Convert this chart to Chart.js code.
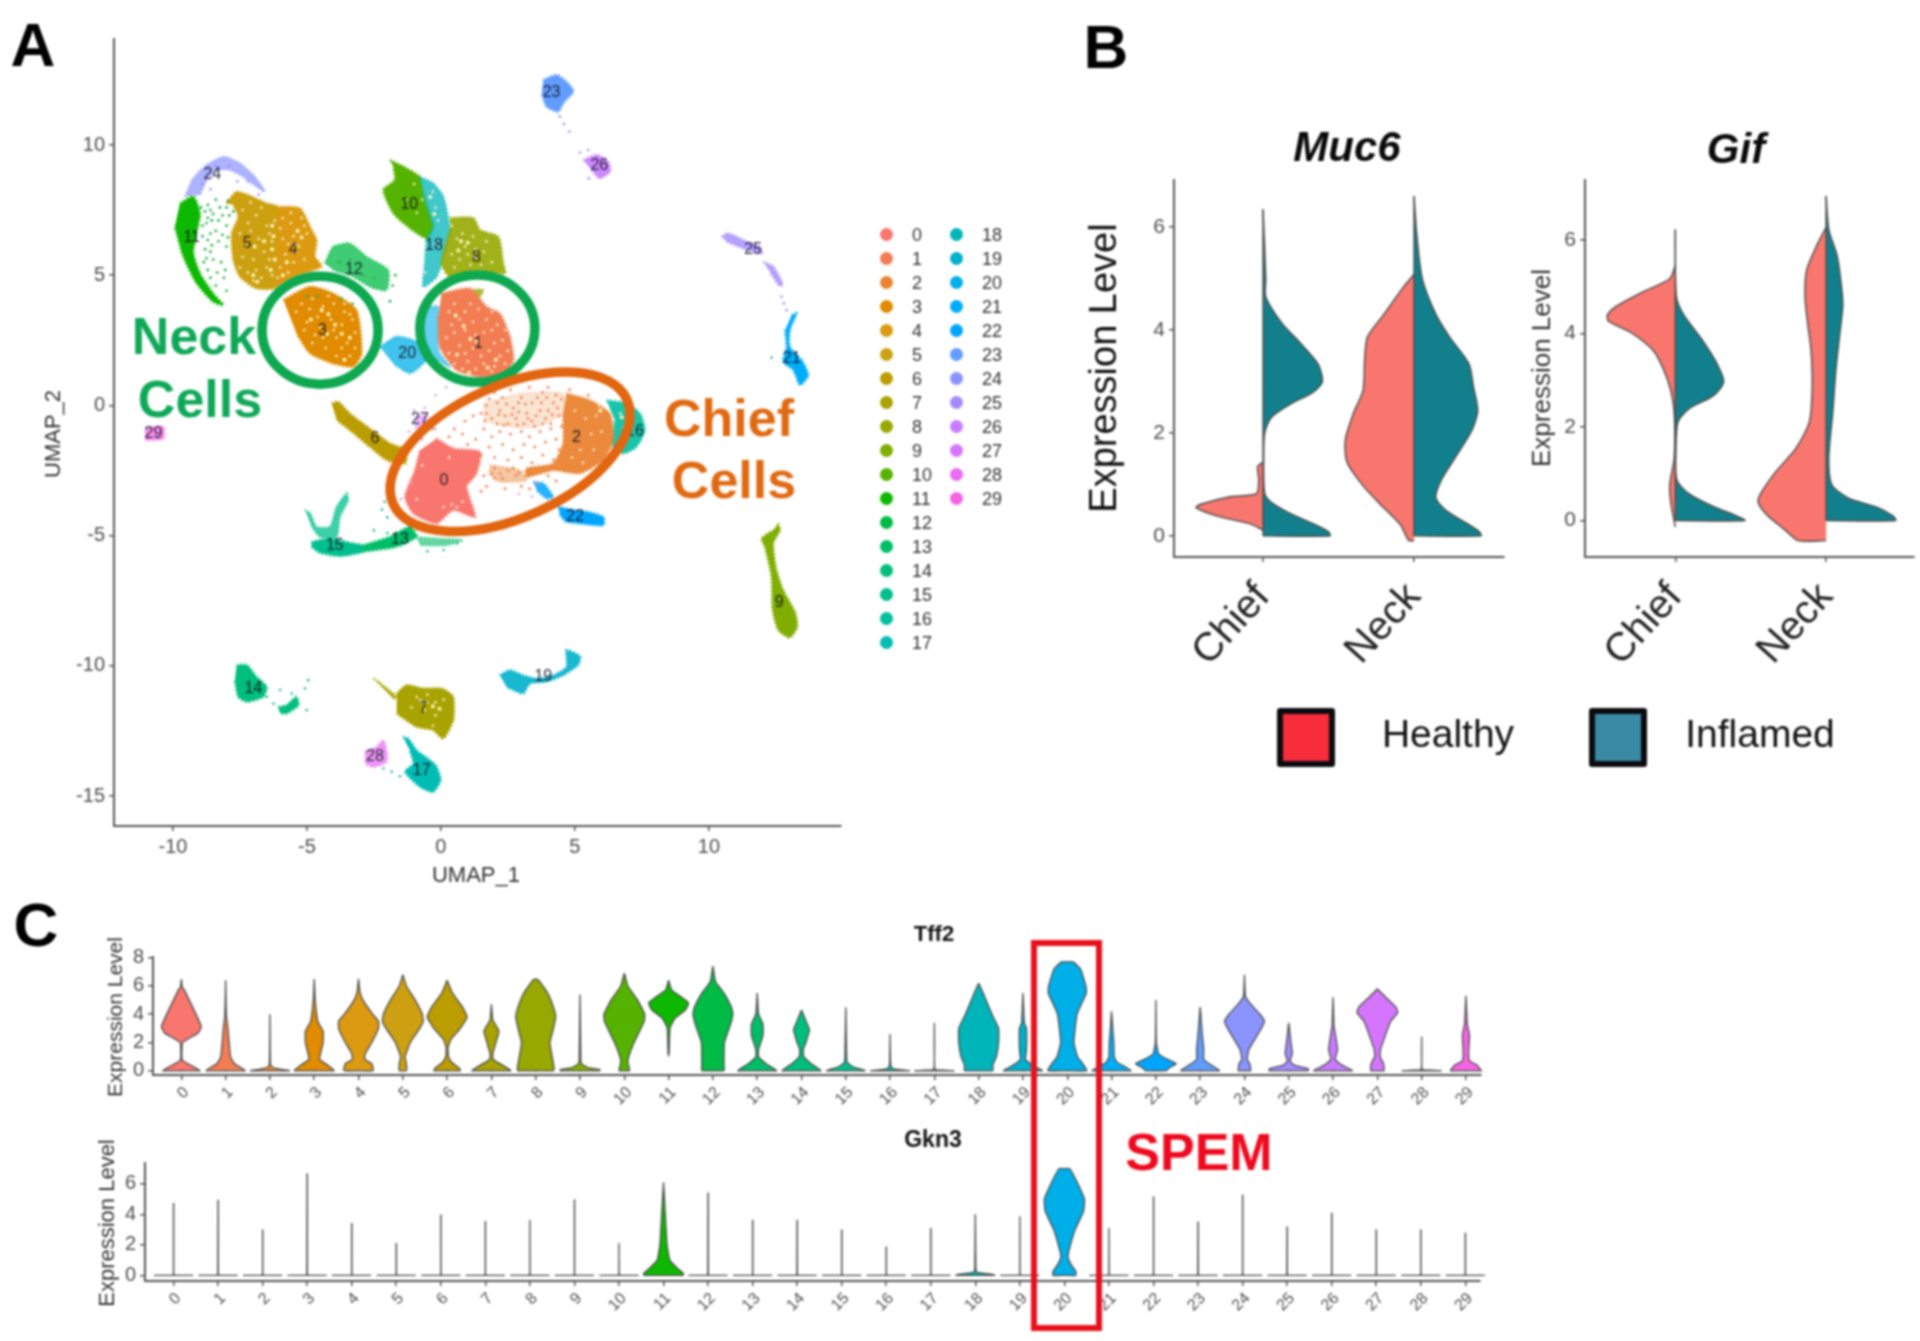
<!DOCTYPE html>
<html>
<head>
<meta charset="utf-8">
<title>UMAP clusters and violin plots</title>
<script src="https://cdn.jsdelivr.net/npm/chart.js@4/dist/chart.umd.min.js"></script>
<style>
  html, body { margin: 0; padding: 0; background: #fff; }
  #page { position: relative; width: 1920px; height: 1341px; overflow: hidden; font-family: "Liberation Sans", Arial, sans-serif; filter: blur(0.8px); }
  canvas { position: absolute; }
  .txt { position: absolute; white-space: nowrap; line-height: 1; }
  .dot { position: absolute; width: 13px; height: 13px; border-radius: 50%; }
  .swatch { position: absolute; box-sizing: border-box; border: 6px solid #0b0b0f; border-radius: 3px; }
</style>
</head>
<body>
<div id="page"></div>
<script>
// ---------- data: panel A ----------
const clusterNames = ['0','1','2','3','4','5','6','7','8','9','10','11','12','13','14','15','16','17','18','19','20','21','22','23','24','25','26','27','28','29'];
const clusterColors = ['#F8766D','#F27D53','#EA8331','#E08B00','#DB9A10','#CCA010','#BC9D00','#A8A300','#97A800','#7FAE00','#55B300','#0DB800','#00BB45','#00BE67','#00BF7D','#00BF8E','#00BFA0','#00BDB4','#00B5BA','#00B0CC','#00AFE8','#00ADFA','#00A5FF','#619CFF','#8B93FF','#A58AFF','#C77CFF','#D575FE','#E76BF3','#F564E3'];

const umapXTicks = [-10, -5, 0, 5, 10];
const umapYTicks = [-15, -10, -5, 0, 5, 10];

const outline0 = [[-0.16,-1.27],[0.46,-1.65],[1.46,-1.78],[1.33,-2.61],[0.96,-3.12],[1.27,-4.28],[0.46,-4.02],[-0.16,-4.53],[-1.03,-4.15],[-1.34,-3.51],[-0.97,-2.49],[-0.78,-1.72]];
const outline1 = [[0.02,4.3],[1.08,4.49],[1.7,3.79],[2.2,3.53],[2.57,2.64],[2.7,1.74],[2.33,1.23],[1.46,1.1],[0.58,1.36],[-0.04,2.25],[-0.1,3.41]];
const outline2 = [[4.69,0.46],[5.56,0.2],[6.3,-0.31],[6.43,-1.33],[6.06,-2.1],[5.19,-2.61],[4.19,-2.49],[3.2,-2.74],[3.2,-2.42],[4.19,-2.23],[4.56,-1.46],[4.56,-0.31]];
const outline2Top = [[1.58,0.08],[2.95,0.46],[4.56,0.46],[4.56,-0.31],[3.57,-0.82],[2.45,-0.82],[1.58,-0.56]];
const outline2Low = [[1.83,-2.29],[2.95,-2.49],[3.2,-2.87],[2.2,-2.93],[1.77,-2.61]];
const outline3 = [[-5.88,4.05],[-4.89,4.56],[-4.02,4.3],[-3.15,3.66],[-2.96,2.0],[-3.27,1.49],[-4.02,1.61],[-4.89,2.0],[-5.39,2.77]];
const outline4 = [[-6.13,7.63],[-5.26,7.57],[-4.89,6.87],[-4.64,6.35],[-4.7,5.72],[-4.45,5.33],[-5.51,4.94],[-6.13,4.56]];
const outline5 = [[-8.0,7.76],[-7.62,8.2],[-6.88,7.94],[-6.5,7.76],[-6.13,7.63],[-6.13,4.56],[-6.88,4.49],[-7.5,4.94],[-7.75,5.58],[-7.81,6.61],[-7.56,7.25],[-7.75,7.7]];
const outline6 = [[-4.08,0.08],[-3.83,0.14],[-3.4,-0.31],[-2.65,-0.89],[-1.9,-1.46],[-1.28,-1.72],[-1.34,-2.23],[-2.03,-2.1],[-2.65,-1.59],[-3.4,-0.95],[-3.89,-0.56]];
const outline7 = [[-1.65,-11.06],[-1.28,-10.74],[-0.66,-10.87],[0.04,-10.87],[0.46,-11.19],[0.46,-12.09],[0.09,-12.79],[-0.29,-12.47],[-0.91,-12.34],[-1.65,-11.83]];
const outline7Tail = [[-2.52,-10.49],[-2.34,-10.61],[-1.65,-11.19],[-1.78,-11.26]];
const outline8 = [[0.34,7.2],[1.21,7.2],[1.46,6.74],[2.14,6.48],[2.33,5.45],[2.39,5.07],[1.33,5.2],[0.34,4.94],[0.02,5.45],[0.34,6.74]];
const outline8Tail = [[1.08,4.43],[1.58,4.43],[1.33,3.98]];
const outline9 = [[12.59,-4.53],[12.65,-4.79],[12.4,-5.3],[12.52,-6.32],[12.77,-7.09],[13.21,-7.93],[13.3,-8.5],[13.02,-8.91],[12.59,-8.63],[12.38,-7.86],[12.34,-6.58],[12.09,-5.43],[11.97,-5.11],[12.4,-4.79]];
const outline10 = [[-1.9,9.42],[-1.41,9.17],[-0.79,8.78],[-0.66,8.14],[-0.47,7.5],[-0.29,6.86],[-0.53,6.41],[-1.16,6.8],[-1.78,7.38],[-2.15,8.27],[-1.72,8.66],[-1.78,9.17]];
const outline11 = [[-9.74,7.76],[-9.24,8.02],[-8.99,7.38],[-9.12,6.61],[-9.24,5.84],[-8.99,5.07],[-8.5,4.3],[-8.12,3.85],[-8.5,3.98],[-9.12,4.69],[-9.61,5.71],[-9.93,6.86]];
const outline12 = [[-4.33,5.45],[-4.02,6.09],[-3.4,6.22],[-2.77,5.71],[-1.97,5.2],[-2.03,4.43],[-2.65,4.56],[-3.27,4.94],[-4.02,5.2]];
const outline13 = [[-2.9,-5.37],[-1.9,-5.04],[-1.16,-4.66],[-0.91,-5.04],[-1.65,-5.43],[-2.9,-5.62]];
const outline13Tail = [[-0.91,-5.05],[-0.16,-5.11],[0.83,-5.17],[0.21,-5.37],[-0.78,-5.37]];
const outline14 = [[-7.62,-9.97],[-7.25,-9.97],[-6.88,-10.42],[-6.5,-10.81],[-6.63,-11.19],[-7.25,-11.38],[-7.56,-11.19],[-7.69,-10.55]];
const outline14Tail = [[-6.07,-11.58],[-5.76,-11.51],[-5.39,-11.19],[-5.32,-11.51],[-5.76,-11.83],[-6.01,-11.81]];
const outline15 = [[-4.83,-5.24],[-4.14,-5.11],[-3.27,-5.3],[-2.9,-5.37],[-2.9,-5.62],[-3.77,-5.79],[-4.51,-5.66],[-4.83,-5.43]];
const outline15Arms = [[-5.07,-4.02],[-4.88,-4.15],[-4.64,-4.66],[-4.14,-4.66],[-3.89,-3.89],[-3.52,-3.38],[-3.46,-3.64],[-3.77,-4.28],[-3.89,-5.04],[-4.51,-5.04],[-4.83,-4.66]];
const outline16 = [[6.18,0.2],[6.93,0.08],[7.43,-0.31],[7.61,-0.95],[7.3,-1.59],[6.8,-1.85],[6.43,-1.59],[6.49,-0.57]];
const outline17 = [[-1.41,-12.73],[-1.22,-12.79],[-0.91,-13.24],[-0.41,-13.62],[-0.16,-13.88],[-0.01,-14.39],[-0.29,-14.84],[-0.78,-14.65],[-1.34,-14.07],[-1.03,-13.75],[-1.16,-13.24]];
const outline18 = [[-0.79,8.78],[-0.29,8.53],[0.09,8.02],[0.34,6.73],[0.21,6.09],[-0.16,4.94],[-0.66,4.55],[-0.6,5.45],[-0.53,6.35],[-0.29,6.86],[-0.47,7.5],[-0.66,8.14]];
const outline19 = [[2.2,-10.36],[2.57,-10.17],[3.07,-10.36],[3.57,-10.49],[4.19,-10.36],[4.69,-10.04],[4.69,-9.4],[5.2,-9.65],[5.12,-9.97],[4.56,-10.36],[3.94,-10.61],[3.32,-10.68],[3.07,-11.06],[2.45,-10.81]];
const outline20 = [[-2.28,2.25],[-1.66,2.64],[-1.03,2.51],[-0.41,2.13],[-0.66,1.61],[-1.16,1.23],[-1.78,1.61]];
const outline20Strip = [[-0.53,3.79],[-0.1,3.79],[-0.1,2.12],[0.34,1.48],[-0.3,1.87],[-0.67,2.64]];
const outline21 = [[13.09,3.47],[13.27,3.53],[13.02,2.89],[13.02,2.25],[13.46,1.74],[13.71,1.17],[13.4,0.78],[13.15,1.36],[12.77,1.68],[12.9,2.25],[12.84,2.89]];
const outline22 = [[4.38,-3.89],[4.94,-4.02],[5.44,-4.08],[6.06,-4.28],[6.06,-4.6],[5.18,-4.53],[4.69,-4.47],[4.44,-4.21]];
const outline22Tail = [[3.45,-2.93],[3.82,-3.0],[4.19,-3.51],[3.94,-3.57],[3.57,-3.25]];
const outline23 = [[3.82,12.5],[4.32,12.69],[4.75,12.37],[4.94,12.05],[4.56,11.6],[4.38,11.28],[3.94,11.47],[3.76,11.98]];
const outline24 = [[-9.55,8.02],[-9.24,8.72],[-8.74,9.23],[-8.12,9.55],[-7.5,9.3],[-6.94,8.78],[-6.57,8.21],[-6.88,8.4],[-7.38,8.78],[-7.87,9.04],[-8.37,9.04],[-8.74,8.66],[-8.99,8.08]];
const outline25 = [[10.47,6.48],[10.72,6.61],[11.41,6.29],[11.9,6.1],[11.97,5.84],[11.28,6.03],[10.66,6.29]];
const outline25Low = [[12.03,5.51],[12.4,5.33],[12.75,4.68],[12.65,4.58],[12.28,5.12]];
const outline26 = [[5.31,9.42],[5.81,9.62],[6.24,9.36],[6.31,8.98],[5.93,8.72],[5.62,9.04]];
const outline27 = [[-0.97,-0.44],[-0.53,-0.37],[-0.6,-0.76],[-0.97,-0.89]];
const outline28 = [[-2.84,-13.3],[-2.4,-13.11],[-2.15,-12.86],[-2.03,-13.24],[-2.03,-13.69],[-2.52,-13.88],[-2.84,-13.75]];
const outline29 = [[-11.04,-0.88],[-10.36,-0.82],[-10.36,-1.28],[-11.04,-1.34]];

// draw order, bottom first: cluster index, outline, opacity
const clusterShapes = [
  [24,outline24,0.7],[11,outline11,1],[12,outline12,0.75],[5,outline5,1],[4,outline4,1],[3,outline3,1],
  [10,outline10,1],[18,outline18,0.75],[8,outline8,0.9],[8,outline8Tail,0.8],[20,outline20,0.75],[20,outline20Strip,0.6],[1,outline1,1],
  [23,outline23,1],[26,outline26,0.9],[25,outline25,0.8],[25,outline25Low,0.8],[21,outline21,1],
  [6,outline6,1],[27,outline27,0.5],[16,outline16,0.9],[2,outline2Top,0.22],[2,outline2Low,0.45],[2,outline2,0.95],[0,outline0,1],
  [22,outline22,1],[22,outline22Tail,0.85],[15,outline15,1],[15,outline15Arms,0.75],[13,outline13,1],[13,outline13Tail,0.6],
  [14,outline14,1],[14,outline14Tail,1],[9,outline9,1],[19,outline19,0.9],[7,outline7,1],[7,outline7Tail,0.9],[17,outline17,1],[28,outline28,0.7],[29,outline29,0.7]
];

// loose cells
const looseCentre = [[1.6,-0.9],[1.9,-1.2],[2.2,-1.0],[2.6,-1.1],[3.0,-1.0],[3.3,-1.2],[3.7,-1.0],[4.1,-0.9],[4.3,-1.3],[1.8,-1.6],[2.3,-1.5],[2.7,-1.7],[3.1,-1.5],[3.5,-1.6],[3.9,-1.4],[4.4,-1.7],[1.5,-1.9],[2.0,-2.0],[2.5,-2.1],[3.0,-2.0],[3.4,-2.2],[3.8,-1.9],[4.2,-2.1],[0.9,-0.6],[0.5,-0.9],[0.2,-0.3],[0.8,-1.1],[1.2,-0.4],[1.3,-1.3],[1.0,-1.5],[0.6,0.1],[1.1,0.2],[2.0,0.5],[2.6,0.6],[3.3,0.7],[4.0,0.7],[4.8,0.6],[5.5,0.4],[1.7,-3.1],[2.4,-3.2],[3.0,-3.1],[3.6,-3.0],[4.3,-2.9],[1.5,-3.3],[2.0,-2.8],[1.7,-0.3],[2.1,0.1],[2.4,-0.4],[2.9,0.1],[3.2,-0.3],[3.6,0.3],[3.9,-0.5],[4.2,0.1],[1.4,-2.3],[1.6,-2.7],[2.8,-2.7],[3.3,-3.2],[4.0,-2.7],[0.3,-1.2],[-0.3,-0.9],
  [1.7,0.0],[1.9,-0.5],[2.2,-0.2],[2.3,0.3],[2.5,-0.7],[2.7,-0.1],[2.8,-0.5],[3.0,0.3],[3.1,-0.7],[3.4,0.1],[3.4,-0.6],[3.7,-0.2],[3.8,0.5],[4.0,-0.2],[4.3,0.4],[4.4,-0.4],[4.5,-0.8],[4.1,-0.7],[2.1,-0.7],[1.5,-0.3],[2.0,-2.4],[2.2,-2.6],[2.5,-2.5],[2.7,-2.4],[2.9,-2.6],[2.3,-2.8],[1.9,-2.6],
  [1.8,0.25],[2.15,-0.35],[2.45,0.05],[2.65,-0.35],[2.85,-0.75],[3.15,0.05],[3.25,-0.5],[3.55,-0.4],[3.75,0.1],[3.95,0.3],[4.15,-0.35],[4.35,-0.1],[4.5,0.25],[2.35,-0.75],[1.65,-0.6],[3.5,-0.8],[3.8,-0.7],[2.9,-0.25]];
const looseSmall = [[-1.0,-0.2],[-0.6,-0.1],[-0.4,-0.5],[-0.2,-0.9],[-1.2,-1.0],[-1.5,-3.6],[-1.2,-4.4],[-1.1,-3.0],[-0.7,-1.3],[-0.2,0.4],[0.2,0.7],[2.9,-3.4],[3.4,-3.5]];
const looseGreen = [[-8.7,7.7],[-8.4,7.9],[-8.0,7.6],[-8.7,7.2],[-8.3,7.1],[-8.0,6.9],[-8.6,6.6],[-8.3,6.3],[-8.0,6.1],[-8.8,6.0],[-8.5,5.6],[-8.2,5.5],[-8.7,5.2],[-8.1,4.9],[-8.4,4.6],[-8.0,4.4],[-8.6,7.5],[-7.9,7.3],[-8.9,6.9],[-8.4,6.7],[-3.8,5.5],[-3.4,5.6],[-2.9,5.0],[-2.5,4.9],[-1.8,4.6],[-1.9,4.0],[-1.7,5.0],[-5.0,4.2],[-4.6,4.2],[-3.7,4.1],[-3.3,3.9],
  [-8.95,7.6],[-8.8,7.45],[-8.75,7.0],[-8.55,7.1],[-8.9,6.5],[-8.7,6.35],[-8.85,5.5],[-8.6,5.9],[-8.75,5.65],[-8.5,7.35],[-8.25,7.6],[-8.15,7.3],[-7.95,7.85],[-7.75,7.45],[-8.6,4.9],[-8.35,5.1],[-8.05,5.2],[-8.55,6.15],[-8.15,6.55],[-7.95,6.45]];
const looseViolet = [[-8.4,9.2],[-7.9,9.2],[-7.2,8.6],[-7.6,8.6],[-8.6,8.3],[-8.9,8.5],[-6.8,8.1],[4.44,11.09],[4.59,10.81],[4.79,10.51],[5.19,9.71],[5.5,9.81],[5.52,8.72],[12.71,4.17],[12.8,3.92],[12.9,3.66]];
const looseTeal = [[-6.5,-11.19],[-6.25,-11.45],[-6.0,-10.93],[-5.57,-11.06],[-5.07,-10.87],[-4.95,-10.55],[-5.01,-11.7],[-2.15,-13.94],[-1.84,-14.07],[-1.53,-14.24],[-2.1,-3.7],[-2.2,-4.0],[-2.0,-4.3],[12.34,1.84],[-2.5,-4.8],[-2.0,-4.9],[-0.5,-5.6],[0.1,-5.55],[0.6,-5.3]];
const speckles = [[-7.4,7.5],[-7.2,7.0],[-6.9,7.3],[-6.5,6.9],[-6.8,6.4],[-7.3,6.1],[-6.6,5.9],[-6.3,6.3],[-7.0,5.6],[-6.5,5.3],[-7.2,5.1],[-6.7,4.9],[-6.3,5.0],[-6.2,7.1],[-5.9,7.2],[-5.6,7.0],[-5.5,6.5],[-5.9,6.4],[-5.3,6.1],[-5.8,5.8],[-5.5,5.5],[-5.1,5.6],[-6.0,5.3],[-5.7,5.1],[-5.0,6.6],[-5.2,7.2],
  [-7.5,6.6],[-7.1,6.7],[-7.4,5.7],[-6.9,5.2],[-6.4,5.6],[-6.4,6.6],[-6.7,7.6],[-7.1,7.8],[-6.0,6.8],[-5.7,6.2],[-5.4,5.9],[-5.1,6.9],[-6.1,4.9],[-5.6,7.4],[-7.5,5.3],[-7.0,4.8],
  [-5.2,3.9],[-4.8,4.1],[-4.4,3.8],[-4.0,3.9],[-3.6,3.6],[-5.0,3.2],[-4.6,3.4],[-4.1,3.3],[-3.7,3.1],[-3.3,3.3],[-4.7,2.7],[-3.9,2.6],[-3.5,2.4],[-4.3,2.2],[-3.9,1.9],[-3.4,1.9],[-3.2,2.8],
  [-5.4,3.6],[-4.9,3.7],[-4.5,3.0],[-4.2,4.2],[-3.4,3.5],[-4.4,2.6],[-3.7,2.2],[-3.2,2.2],[-4.0,2.9],[-3.6,3.9],[-4.8,2.4],[-5.1,2.9],
  [0.5,3.9],[0.9,3.6],[1.4,3.7],[1.7,3.3],[2.1,3.1],[0.4,3.1],[0.9,2.9],[1.6,2.8],[2.3,2.5],[0.2,2.6],[0.7,2.3],[1.8,2.1],[2.2,1.9],[1.0,1.7],[1.6,1.6],[2.0,1.5],[0.5,1.6],[0.3,2.0],[1.2,2.2],
  [0.3,3.6],[0.7,3.3],[1.2,3.2],[1.9,2.9],[2.4,2.9],[0.5,2.8],[1.3,2.7],[2.0,2.4],[0.9,2.0],[1.5,1.9],[2.4,1.6],[1.3,1.4],[0.8,1.4],[1.9,1.3],[2.5,2.1],[1.1,3.9],[1.9,3.6],
  [0.6,6.4],[0.9,6.1],[1.3,6.0],[0.7,5.6],[1.1,5.4],[0.5,5.3],[1.6,5.9],[0.4,6.9],[0.8,6.6],[1.2,6.5],[1.7,6.3],[1.0,5.8],[1.9,5.5],[0.4,5.8],[1.5,5.4],
  [-1.0,8.5],[-1.3,7.9],[-0.9,7.4],[-0.7,7.9],[-0.3,8.2],[-0.2,7.6],[-0.1,7.1],[-0.2,6.2],[-0.6,5.1],
  [-0.9,-11.2],[-0.5,-11.1],[-0.2,-11.4],[-0.6,-11.7],[-0.2,-11.9],[-1.1,-11.6],[0.1,-11.3],[-0.3,-12.3],
  [5.0,-0.2],[5.4,-0.5],[5.8,-0.4],[6.0,-1.0],[5.6,-1.1],[5.2,-1.7],[5.7,-1.7],[4.9,-2.0],[5.3,-2.2],[5.9,0.0],[6.7,-0.3],[6.9,-0.6],
  [0.1,-3.9],[0.4,-3.8],[0.6,-3.9],[0.8,-3.7],[-0.9,-3.6],[-0.7,-2.3],[0.3,-2.0]];
const paleSpots = [[-6.3,6.9],[-6.25,6.5],[-6.3,6.0],[-6.2,5.6],[-6.35,5.2],[-5.35,6.7],[-5.2,6.45],[-5.45,6.2],[-6.95,6.1],[-6.6,6.3],[-7.0,5.0],[-6.85,4.75],[-5.75,5.5],[-5.9,5.0],[-4.45,3.65],[-4.2,3.5],[-3.95,3.1],[-3.7,2.75],[-4.25,2.75],[-3.4,2.6],[-3.6,1.75],[1.1,2.55],[1.35,2.45],[0.6,1.95],[2.05,1.75],[1.75,1.45],[1.05,1.25],[0.85,3.05],[0.55,3.45],[0.75,6.3],[1.0,6.25],[0.65,5.95],[1.25,5.7],[-0.55,-11.4],[-0.3,-11.55],[-0.75,-11.35],[-0.05,-11.65],[-0.4,8.0],[-0.25,7.35],[6.75,-0.45],[6.85,-0.85],[5.95,-0.2],[-4.85,3.3]];
const clusterLabelXs = [0.11,1.39,5.06,-4.42,-5.51,-7.23,-2.46,-0.66,1.33,12.62,-1.18,-9.3,-3.25,-1.53,-7.0,-3.96,7.24,-0.72,-0.26,3.82,-1.26,13.09,5.0,4.13,-8.53,11.65,5.91,-0.78,-2.46,-10.73];
const clusterLabelYs = [-2.9,2.38,-1.24,2.87,5.99,6.22,-1.27,-11.64,5.69,-7.57,7.7,6.45,5.2,-5.15,-10.87,-5.39,-0.99,-14.03,6.12,-10.4,2.0,1.81,-4.28,12.01,8.87,5.97,9.19,-0.56,-13.5,-1.08];

// ---------- data: panel B, each profile is [level, half width] ----------
const groupNames = ['Chief','Neck'];
const muc6Ticks = [0, 2, 4, 6];
const gifTicks = [0, 2, 4, 6];
const muc6ChiefHealthy = [[1.43,0],[1.35,.036],[1.09,.029],[.82,.044],[.76,.218],[.61,.418],[.55,.444],[.39,.309],[.30,.182],[.22,.073],[.11,0]];
const muc6ChiefInflamed = [[6.34,0],[4.99,.018],[4.64,.018],[4.12,.127],[3.78,.236],[3.34,.364],[2.99,.393],[2.78,.327],[2.56,.182],[2.3,.055],[2.0,.011],[1.52,.004],[.82,.011],[.65,.055],[.43,.182],[.22,.345],[.09,.43],[0,.444],[0,0]];
const muc6NeckHealthy = [[5.08,0],[4.82,.073],[4.3,.2],[3.86,.309],[3.43,.327],[2.82,.338],[2.39,.4],[1.87,.455],[1.43,.444],[1.0,.345],[.65,.236],[.22,.091],[-.09,.036],[-.09,0]];
const muc6NeckInflamed = [[6.6,0],[5.86,.018],[4.99,.055],[4.3,.145],[3.86,.236],[3.34,.364],[2.91,.393],[2.43,.422],[2.04,.382],[1.52,.273],[1.09,.182],[.74,.145],[.48,.218],[.22,.364],[.09,.43],[0,.444],[0,0]];
const gifChiefHealthy = [[5.45,0],[5.17,.037],[4.88,.221],[4.59,.387],[4.4,.45],[4.26,.443],[4.02,.295],[3.64,.148],[3.25,.081],[2.78,.03],[2.3,.007],[1.34,.007],[.77,.037],[.38,.03],[-.14,0]];
const gifChiefInflamed = [[6.22,0],[4.78,.007],[4.4,.055],[3.83,.185],[3.35,.277],[2.97,.321],[2.68,.258],[2.39,.092],[2.11,.018],[1.53,.004],[.86,.011],[.57,.092],[.29,.258],[.1,.406],[0,.461],[0,0]];
const gifNeckHealthy = [[6.27,0],[5.93,.055],[5.36,.129],[4.78,.14],[4.21,.122],[3.64,.1],[2.87,.092],[2.11,.111],[1.53,.203],[1.05,.332],[.57,.435],[.38,.45],[.1,.387],[-.19,.277],[-.43,.185],[-.43,0]];
const gifNeckInflamed = [[6.94,0],[6.22,.018],[5.65,.074],[4.98,.103],[4.59,.111],[4.02,.092],[3.25,.066],[2.3,.044],[1.34,.018],[.77,.037],[.48,.148],[.29,.332],[.1,.443],[0,.461],[0,0]];

// ---------- data: panel C ----------
const tff2Ticks = [0, 2, 4, 6, 8];
const gkn3Ticks = [0, 2, 4, 6];
const tff2Violins = [
  [[6.48,0],[5.9,.02],[5.76,.06],[3.14,.45],[2.67,.38],[2.0,.03],[.76,.02],[.29,.27],[0,.42],[0,0]],
  [[6.4,0],[4,.015],[3,.05],[1,.11],[.5,.2],[.2,.36],[0,.44],[0,0]],
  [[4.0,0],[.5,.01],[.25,.05],[.1,.25],[0,.44],[0,0]],
  [[6.5,0],[5,.02],[3.5,.08],[2.8,.2],[2,.2],[1.2,.14],[.8,.12],[.4,.3],[0,.45],[0,0]],
  [[6.5,0],[5.6,.03],[5,.1],[4,.32],[3.5,.45],[3,.45],[2,.3],[1.2,.15],[.8,.14],[.5,.3],[0,.33],[0,0]],
  [[6.8,0],[6,.08],[5,.28],[4,.44],[3.5,.46],[3,.38],[2,.17],[1,.05],[.5,.08],[0,.08],[0,0]],
  [[6.4,0],[5.5,.12],[4.5,.35],[3.8,.45],[3,.3],[2.2,.08],[1.6,.02],[1,.03],[.6,.1],[.2,.27],[0,.3],[0,0]],
  [[4.7,0],[3.6,.03],[2.8,.17],[2.2,.12],[1.2,.03],[.8,.04],[.3,.3],[0,.44],[0,0]],
  [[6.5,0],[6.4,.07],[5.5,.27],[4.5,.4],[3.8,.45],[3,.4],[2,.32],[1,.37],[.3,.41],[0,.4],[0,0]],
  [[5.4,0],[1.2,.015],[.5,.03],[.2,.2],[.08,.45],[0,.44],[0,0]],
  [[6.9,0],[6,.08],[5,.3],[4,.46],[3.5,.45],[2,.22],[1,.1],[.6,.08],[0,.12],[0,0]],
  [[6.4,0],[5.7,.07],[5.3,.25],[4.8,.45],[4.3,.38],[3.7,.14],[3,.03],[1.2,.01],[1.1,0]],
  [[7.4,0],[6.3,.06],[5.5,.25],[4.5,.42],[4,.45],[3.3,.4],[2,.26],[.5,.25],[0,.25],[0,0]],
  [[5.5,0],[4,.03],[3.3,.13],[2.5,.13],[1.5,.03],[1,.03],[.5,.2],[0,.44],[0,0]],
  [[4.3,0],[3.3,.13],[2.9,.18],[2,.1],[1.5,.04],[1,.05],[.5,.22],[0,.44],[0,0]],
  [[4.5,0],[1.5,.015],[.6,.03],[.3,.15],[0,.44],[0,0]],
  [[2.6,0],[.5,.01],[.2,.04],[.1,.15],[0,.44],[0,0]],
  [[3.4,0],[.1,.01],[.05,.2],[0,.44],[0,0]],
  [[6.2,0],[5.5,.1],[4,.3],[3,.45],[2,.45],[1,.4],[.4,.32],[0,.32],[0,0]],
  [[5.5,0],[3.4,.03],[3,.08],[1.5,.08],[.8,.06],[.4,.22],[0,.44],[0,0]],
  [[7.7,0],[7.7,.13],[7.2,.3],[6,.42],[5.5,.43],[4,.22],[2,.15],[1,.23],[.5,.35],[0,.44],[0,0]],
  [[4.2,0],[2.8,.03],[2,.05],[1,.06],[.6,.12],[.2,.35],[0,.44],[0,0]],
  [[5,0],[2,.01],[1.2,.06],[.9,.2],[.5,.46],[.2,.3],[.05,.25],[0,.24],[0,0]],
  [[4.5,0],[2.5,.05],[1.5,.08],[.8,.08],[.4,.25],[0,.44],[0,0]],
  [[6.8,0],[5.3,.02],[4.8,.12],[4,.35],[3.5,.45],[3,.38],[1.5,.1],[.8,.06],[.5,.12],[0,.14],[0,0]],
  [[3.4,0],[2,.05],[1.2,.08],[.7,.03],[.4,.12],[.15,.44],[0,.44],[0,0]],
  [[5.2,0],[3.2,.02],[2.6,.05],[1.5,.1],[.8,.05],[.4,.2],[0,.44],[0,0]],
  [[5.8,0],[5.5,.09],[4.5,.42],[4.1,.46],[3.5,.3],[1.5,.07],[1,.06],[.5,.14],[0,.15],[0,0]],
  [[2.4,0],[.1,.01],[.05,.2],[0,.44],[0,0]],
  [[5.3,0],[3.3,.03],[2.5,.08],[1.3,.06],[.7,.08],[.4,.25],[0,.35],[0,0]]
];
// Gkn3 is almost all zeros, so most clusters are a spike up to their highest cell
const gkn3Tops = [4.74,4.96,3.0,6.7,3.44,2.13,4.0,3.56,3.65,5.0,2.13,null,5.44,3.65,3.65,3.0,1.9,3.1,null,3.87,null,3.1,5.17,3.54,5.28,3.2,4.1,3.0,3.0,2.8];
const gkn3Cluster11 = [[6.1,0],[4,.04],[2,.08],[1,.14],[.5,.3],[.1,.45],[0,.44],[0,0]];
const gkn3Cluster18 = [[4,0],[.5,.01],[.2,.03],[.05,.4],[0,.44],[0,0]];
const gkn3Cluster20 = [[7,0],[7,.12],[6.2,.27],[5,.45],[4.2,.43],[3,.24],[1.6,.1],[1.2,.08],[.7,.15],[.3,.25],[0,.26],[0,0]];

// ---------- page helpers ----------
const FONT = '"Liberation Sans", Arial, sans-serif';
const page = document.getElementById('page');

function addText(text, x, y, size, color, opts = {}) {
  const el = document.createElement('div');
  el.className = 'txt';
  el.textContent = text;
  el.style.left = x + 'px';
  el.style.top = y + 'px';
  el.style.fontSize = size + 'px';
  el.style.color = color;
  if (opts.bold) el.style.fontWeight = 'bold';
  if (opts.italic) el.style.fontStyle = 'italic';
  const rot = opts.rot ? ` rotate(${opts.rot}deg)` : '';
  el.style.transform = (opts.left ? 'translateY(-50%)' : 'translate(-50%,-50%)') + rot;
  page.appendChild(el);
}

// plot = [left, top, right, bottom] of the axes in page pixels
function makeChart(plot, yW, xH, datasets, xCfg, yCfg, plugins = []) {
  const PAD = 14; // room for the top tick label
  const canvas = document.createElement('canvas');
  canvas.width = plot[2] - plot[0] + yW + 6;
  canvas.height = plot[3] - plot[1] + xH + PAD;
  canvas.style.left = (plot[0] - yW) + 'px';
  canvas.style.top = (plot[1] - PAD) + 'px';
  page.appendChild(canvas);
  return new Chart(canvas, {
    type: 'scatter',
    data: { datasets: datasets.slice().reverse() }, // chart.js paints the first dataset last
    plugins,
    options: {
      responsive: false,
      animation: false,
      layout: { padding: { left: 0, top: PAD, right: 6, bottom: 0 } },
      plugins: { legend: { display: false }, tooltip: { enabled: false } },
      scales: {
        x: axis(xCfg, 'height', xH),
        y: axis(yCfg, 'width', yW)
      }
    }
  });
}

function axis(cfg, side, size) {
  return {
    type: 'linear',
    min: cfg.min,
    max: cfg.max,
    border: { display: true, color: cfg.lineColor || '#555', width: cfg.lineWidth || 2 },
    grid: { drawOnChartArea: false, drawTicks: true, tickLength: cfg.tickLength || 5, color: '#555', lineWidth: 1.5 },
    afterBuildTicks: s => { s.ticks = cfg.ticks.map(v => ({ value: v })); },
    afterFit: s => {
      s[side] = size;
      s.paddingLeft = s.paddingRight = s.paddingTop = s.paddingBottom = 0;
    },
    ticks: {
      autoSkip: false,
      maxRotation: cfg.rotation || 0,
      minRotation: cfg.rotation || 0,
      padding: cfg.padding === undefined ? 4 : cfg.padding,
      labelOffset: cfg.labelOffset || 0,
      color: cfg.color || '#4d4d4d',
      font: { family: FONT, size: cfg.size },
      callback: cfg.labels ? v => cfg.labels[v - (cfg.labelBase || 0)] : v => String(v)
    }
  };
}

const toPts = list => list.map(([x, y]) => ({ x, y }));

function looseDots(list, color, r) {
  return { data: toPts(list), showLine: false, pointRadius: r, pointBorderWidth: 0, pointBackgroundColor: color, clip: false };
}

// one side of a violin: sign is +1 for right, -1 for left
function halfViolin(center, profile, sign) {
  return profile.map(([level, half]) => ({ x: center + sign * half, y: level }));
}
function violinSet(points, fillColor, edge, tension, lineWidth) {
  return {
    data: points, showLine: true, fill: 'shape', backgroundColor: fillColor, borderColor: edge,
    borderWidth: lineWidth, pointRadius: 0, tension, clip: false
  };
}
// the fill closes itself straight, the shared middle line is drawn on its own
function splitViolin(center, profile, sign, fillColor) {
  return violinSet(halfViolin(center, profile, sign), fillColor, '#4a4a4a', 0.25, 1.4);
}
function middleLine(center, profile) {
  const last = profile[profile.length - 1][0];
  return violinSet([{ x: center, y: profile[0][0] }, { x: center, y: last }], 'transparent', '#4a4a4a', 0, 1.4);
}
function fullViolin(center, profile, fillColor, tension) {
  const right = halfViolin(center, profile, 1);
  const left = halfViolin(center, profile, -1).reverse();
  return violinSet(right.concat(left), fillColor, '#4a4a4a', tension, 1.3);
}
function hexAlpha(hex, a) {
  const n = parseInt(hex.slice(1), 16);
  return `rgba(${n >> 16},${(n >> 8) & 255},${n & 255},${a})`;
}

// ---------- panel A ----------
const umapSets = clusterShapes.map(([idx, outline, alpha]) => {
  const c = hexAlpha(clusterColors[idx], alpha);
  // dashed edge so the outline looks grainy like a cloud of cells
  return { data: toPts(outline), showLine: true, fill: 'shape', backgroundColor: c, borderColor: c, borderWidth: 3, borderDash: [1.5, 2.5], pointRadius: 0, tension: 0.2, clip: false };
});
umapSets.push(looseDots(speckles, '#fff3d6', 1.25));
umapSets.push(looseDots(paleSpots, '#fff6b8', 2));
umapSets.push(looseDots(looseCentre, '#EE8B62', 1.5));
umapSets.push(looseDots(looseSmall, '#D9A0E0', 1.3));
umapSets.push(looseDots(looseGreen, '#22B14C', 1.4));
umapSets.push(looseDots(looseViolet, '#A58AFF', 1.3));
umapSets.push(looseDots(looseTeal, '#22B59A', 1.3));

const umapMarks = {
  id: 'umapMarks',
  afterDatasetsDraw(chart) {
    const { ctx, scales: { x, y } } = chart;
    ctx.save();
    ctx.font = `16px ${FONT}`;
    ctx.textAlign = 'center';
    ctx.textBaseline = 'middle';
    ctx.fillStyle = 'rgba(15,15,30,0.88)';
    clusterNames.forEach((name, i) => ctx.fillText(name, x.getPixelForValue(clusterLabelXs[i]), y.getPixelForValue(clusterLabelYs[i])));
    // hand drawn rings of the figure: circle, circle, tilted ellipse
    const ring = (cx, cy, rx, ry, tilt, color) => {
      ctx.beginPath();
      ctx.ellipse(x.getPixelForValue(cx), y.getPixelForValue(cy), rx, ry, tilt, 0, Math.PI * 2);
      ctx.lineWidth = 9.5;
      ctx.strokeStyle = color;
      ctx.stroke();
    };
    ring(-4.51, 2.89, 58, 54, 0, '#0DA850');
    ring(1.36, 2.95, 57.5, 53.5, 0, '#0DA850');
    ring(2.58, -1.78, 128, 66, -24 * Math.PI / 180, '#E2650F');
    ctx.restore();
  }
};

makeChart([114, 39, 841, 826], 60, 40, umapSets,
  { min: -12.2, max: 14.93, ticks: umapXTicks, size: 20 },
  { min: -16.15, max: 14.07, ticks: umapYTicks, size: 20 },
  [umapMarks]);

addText('UMAP_1', 476, 875, 22, '#333');
addText('UMAP_2', 53, 434, 22, '#333', { rot: -90 });

clusterNames.forEach((name, i) => {
  const col = i < 18 ? 0 : 1;
  const row = col ? i - 18 : i;
  const dot = document.createElement('div');
  dot.className = 'dot';
  dot.style.left = (col ? 950 : 880) + 'px';
  dot.style.top = (228 + row * 24) + 'px';
  dot.style.background = clusterColors[i];
  page.appendChild(dot);
  addText(name, col ? 982 : 912, 235 + row * 24, 18, '#333', { left: true });
});

// ---------- panel B ----------
const healthyFill = '#F8766D';
const inflamedFill = '#12808C';

makeChart([1173.7, 180, 1504, 557], 40, 150, [
  splitViolin(1, muc6ChiefInflamed, 1, inflamedFill),
  splitViolin(1, muc6ChiefHealthy, -1, healthyFill),
  middleLine(1, muc6ChiefInflamed),
  splitViolin(2, muc6NeckHealthy, -1, healthyFill),
  splitViolin(2, muc6NeckInflamed, 1, inflamedFill),
  middleLine(2, muc6NeckInflamed)
],
  { min: 0.41, max: 2.596, ticks: [1, 2], labels: groupNames, labelBase: 1, rotation: 48, size: 40, color: '#222', padding: 12 },
  { min: -0.41, max: 6.91, ticks: muc6Ticks, size: 21 });

makeChart([1584.6, 180, 1914, 557], 40, 150, [
  splitViolin(1, gifChiefInflamed, 1, inflamedFill),
  splitViolin(1, gifChiefHealthy, -1, healthyFill),
  middleLine(1, gifChiefInflamed),
  splitViolin(2, gifNeckInflamed, 1, inflamedFill),
  splitViolin(2, gifNeckHealthy, -1, healthyFill),
  middleLine(2, gifNeckInflamed)
],
  { min: 0.401, max: 2.583, ticks: [1, 2], labels: groupNames, labelBase: 1, rotation: 48, size: 40, color: '#222', padding: 12 },
  { min: -0.78, max: 7.28, ticks: gifTicks, size: 21 });

addText('Muc6', 1347, 147, 42, '#0a0a0a', { bold: true, italic: true });
addText('Gif', 1736, 149, 42, '#0a0a0a', { bold: true, italic: true });
addText('Expression Level', 1103, 368, 38, '#111', { rot: -90 });
addText('Expression Level', 1541, 368, 26, '#333', { rot: -90 });

function addSwatch(x, color) {
  const el = document.createElement('div');
  el.className = 'swatch';
  el.style.left = x + 'px';
  el.style.top = '708px';
  el.style.width = '58px';
  el.style.height = '59px';
  el.style.background = color;
  page.appendChild(el);
}
addSwatch(1277, '#F72D3C');
addSwatch(1589, '#3A8AA5');
addText('Healthy', 1448, 733, 39, '#111');
addText('Inflamed', 1760, 733, 39, '#111');

// ---------- panel C ----------
const clusterAxis = { ticks: clusterNames.map(Number), labels: clusterNames, rotation: 45, size: 16, padding: 3, labelOffset: 5 };

makeChart([152.7, 957, 1481, 1075], 50, 60,
  tff2Violins.map((profile, i) => fullViolin(i, profile, clusterColors[i], 0.12)),
  { ...clusterAxis, min: -0.64, max: 29.34 },
  { min: -0.3, max: 8.05, ticks: tff2Ticks, size: 20 });

const gkn3Sets = gkn3Tops.map((top, i) => {
  if (top === null) return null;
  const spike = [[top, 0], [0.03, 0.004], [0.01, 0.03], [0, 0.44], [0, 0]];
  return fullViolin(i, spike, '#666', 0);
}).filter(Boolean);
gkn3Sets.push(fullViolin(11, gkn3Cluster11, clusterColors[11], 0.12));
gkn3Sets.push(fullViolin(18, gkn3Cluster18, clusterColors[18], 0.05));
gkn3Sets.push(fullViolin(20, gkn3Cluster20, clusterColors[20], 0.12));

makeChart([145.4, 1163, 1481, 1281.7], 50, 50, gkn3Sets,
  { ...clusterAxis, min: -0.64, max: 29.33 },
  { min: -0.37, max: 7.37, ticks: gkn3Ticks, size: 20 });

addText('Expression Level', 114, 1017, 21, '#333', { rot: -90 });
addText('Expression Level', 107, 1223, 22, '#333', { rot: -90 });
addText('Tff2', 934, 934, 22, '#111', { bold: true });
addText('Gkn3', 933, 1139, 23, '#111', { bold: true });
addText('SPEM', 1199, 1152, 52, '#EE0A1E', { bold: true });

const spemBox = document.createElement('div');
spemBox.style.cssText = 'position:absolute;left:1031px;top:940px;width:71px;height:391px;box-sizing:border-box;border:6px solid #E8101C;';
page.appendChild(spemBox);

// ---------- panel letters and ring captions ----------
addText('A', 33, 45, 62, '#000', { bold: true });
addText('B', 1106, 47, 62, '#000', { bold: true });
addText('C', 36, 925, 62, '#000', { bold: true });
addText('Neck', 194, 336, 52, '#0FA858', { bold: true });
addText('Cells', 200, 399, 52, '#0FA858', { bold: true });
addText('Chief', 729, 418, 52, '#E06A12', { bold: true });
addText('Cells', 734, 480, 52, '#E06A12', { bold: true });
</script>
</body>
</html>
